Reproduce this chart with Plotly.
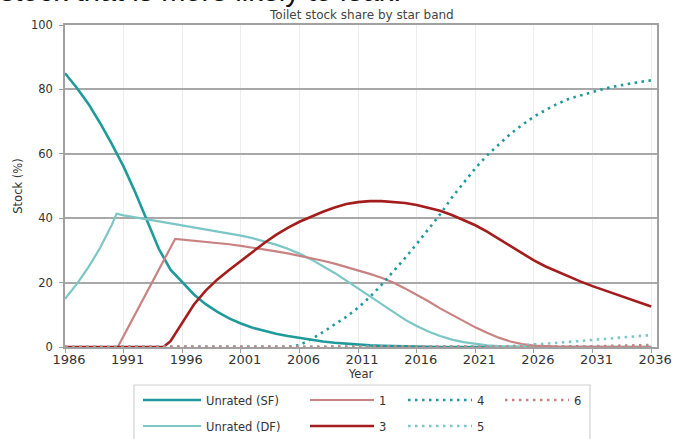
import plotly.graph_objects as go

# ---- data -------------------------------------------------------------
years = list(range(1986, 2037))

unrated_sf = [85.0, 80.5, 75.5, 69.5, 63.0, 56.0, 48.0, 39.5, 30.5, 24.0,
              20.0, 16.3, 13.3, 10.9, 8.9, 7.3, 6.0, 5.0, 4.1, 3.4,
              2.8, 2.2, 1.7, 1.3, 1.0, 0.7, 0.5, 0.35, 0.25, 0.15,
              0.1, 0.05, 0, 0, 0, 0, 0, 0, 0, 0,
              0, 0, 0, 0, 0, 0, 0, 0, 0, 0, 0]

df_years = [1986, 1987, 1988, 1989, 1990, 1990.4] + list(range(1991, 2037))
unrated_df = [15.0, 19.5, 24.8, 30.8, 38.0, 41.4,
              40.9, 40.2, 39.6, 39.0, 38.4, 37.8, 37.2, 36.6, 36.0, 35.3,
              34.6, 33.8, 32.9, 31.8, 30.5, 29.0, 27.2, 25.2, 23.0, 20.6,
              18.2, 15.7, 13.2, 10.8, 8.5, 6.5, 4.8, 3.4, 2.3, 1.5,
              0.9, 0.5, 0.3, 0.15, 0.07, 0, 0, 0, 0, 0,
              0, 0, 0, 0, 0, 0]

band1_years = [1986, 1990.5, 1995.4] + list(range(1996, 2037))
band1 = [0, 0, 33.6,
         33.4, 33.1, 32.7, 32.3, 31.9, 31.4, 30.9, 30.3, 29.7, 29.1,
         28.4, 27.6, 26.8, 25.9, 24.9, 23.8, 22.7, 21.5, 20.0, 18.2,
         16.3, 14.2, 12.0, 10.0, 8.0, 6.1, 4.4, 2.9, 1.7, 0.9,
         0.4, 0.2, 0.1, 0.05, 0, 0, 0, 0, 0, 0, 0, 0]

band3_years = [1986, 1994.4] + list(range(1995, 2037))
band3 = [0, 0,
         1.8, 7.5, 13.2, 17.5, 21.0, 23.9, 26.7, 29.5, 32.3, 34.8,
         37.0, 38.9, 40.5, 42.0, 43.3, 44.4, 45.0, 45.3, 45.3, 45.1,
         44.7, 44.1, 43.3, 42.3, 41.0, 39.5, 37.8, 35.8, 33.6, 31.4,
         29.1, 26.9, 25.0, 23.4, 21.8, 20.3, 18.9, 17.6, 16.4, 15.2,
         13.9, 12.6]

band4 = [0] * 19 + [0.1, 0.6, 2.4, 4.6, 6.9, 9.4, 12.2, 15.5, 19.3, 23.3,
                    27.6, 32.0, 36.5, 41.2, 46.4, 51.0, 55.5, 59.5, 63.0,
                    66.2, 69.0, 71.5, 73.6, 75.5, 77.1, 78.2, 79.3, 80.2,
                    81.0, 81.7, 82.3, 82.8]

band5 = [0] * 36 + [0.05, 0.15, 0.3, 0.5, 0.75, 1.0, 1.3, 1.6, 1.9, 2.2,
                    2.5, 2.8, 3.1, 3.4, 3.7]

band6 = [0] * 40 + [0.05, 0.08, 0.1, 0.15, 0.2, 0.25, 0.3, 0.38, 0.45,
                    0.52, 0.6]

# ---- styling ----------------------------------------------------------
TEAL = "#1f9a9a"
TEAL_LIGHT = "#7cc6c6"
ROSE = "#c98282"
CRIMSON = "#a41c1c"
DOTS = "2.5px,4.5px"
FONT = "DejaVu Sans"

series = [
    ("Unrated (SF)", years, unrated_sf, TEAL, 2.6, "solid", "legend"),
    ("Unrated (DF)", df_years, unrated_df, TEAL_LIGHT, 2.2, "solid", "legend2"),
    ("1", band1_years, band1, ROSE, 2.2, "solid", "legend3"),
    ("3", band3_years, band3, CRIMSON, 2.6, "solid", "legend4"),
    ("4", years, band4, TEAL, 2.6, DOTS, "legend5"),
    ("5", years, band5, TEAL_LIGHT, 2.6, DOTS, "legend6"),
    ("6", years, band6, ROSE, 2.6, DOTS, "legend7"),
]

fig = go.Figure()
for name, xs, ys, color, width, dash, leg in series:
    fig.add_trace(go.Scatter(
        x=xs, y=ys, name=name, mode="lines", legend=leg,
        line=dict(color=color, width=width, dash=dash),
    ))

# plot area geometry (px)
L, R, T, B = 65, 26, 25, 92
W, H = 683, 439
pw, ph = W - L - R, H - T - B


def px_x(px):
    return (px - L) / pw


def px_y(py):
    return (H - B - py) / ph


# one legend per entry, laid out in a 4-column box
legend_pos = {
    "legend": (138, 400, 58), "legend2": (138, 426, 58),
    "legend3": (305, 400, 64), "legend4": (305, 426, 64),
    "legend5": (403, 400, 64), "legend6": (403, 426, 64),
    "legend7": (500, 400, 64),
}
legend_layouts = {}
for key, (lx, ly, iw) in legend_pos.items():
    legend_layouts[key] = dict(
        x=px_x(lx), y=px_y(ly), xanchor="left", yanchor="middle",
        bgcolor="rgba(0,0,0,0)", borderwidth=0, itemwidth=iw,
        font=dict(family=FONT, size=11.5, color="#333"),
    )

fig.update_layout(
    width=W, height=H,
    margin=dict(l=L, r=R, t=T, b=B, autoexpand=False),
    paper_bgcolor="white", plot_bgcolor="white",
    font=dict(family=FONT, color="#333"),
    showlegend=True,
    **legend_layouts,
    xaxis=dict(
        range=[1986, 2036.5], tick0=1986, dtick=5,
        showgrid=True, gridcolor="#ececec", gridwidth=1,
        showline=True, mirror=True, linecolor="#a0a0a0", linewidth=1.5,
        ticks="outside", ticklen=4, tickcolor="#a0a0a0",
        tickfont=dict(family=FONT, size=13, color="#333"),
        ticklabelshift=4, ticklabelstandoff=-4,
        zeroline=False,
        title=dict(text="Year", font=dict(family=FONT, size=11.5, color="#333"),
                   standoff=2),
    ),
    yaxis=dict(
        range=[0, 100], tick0=0, dtick=20,
        showgrid=True, gridcolor="#a8a8a8", gridwidth=1.5,
        showline=True, mirror=True, linecolor="#a0a0a0", linewidth=1.5,
        ticks="outside", ticklen=4, tickcolor="#a0a0a0",
        tickfont=dict(family=FONT, size=11.5, color="#333"),
        ticklabelstandoff=4,
        zeroline=False,
        title=dict(text="Stock (%)", font=dict(family=FONT, size=11.5, color="#333"),
                   standoff=6),
    ),
)

# legend frame
fig.add_shape(type="rect", xref="paper", yref="paper",
              x0=px_x(134), x1=px_x(590), y0=px_y(445), y1=px_y(385),
              line=dict(color="#cfcfcf", width=1.2), fillcolor="rgba(0,0,0,0)",
              layer="below")

# chart title
fig.add_annotation(text="Toilet stock share by star band", xref="paper", yref="paper",
                   x=0.5, y=px_y(15), xanchor="center", yanchor="middle",
                   showarrow=False, font=dict(family=FONT, size=12, color="#444"))

# caption line from the surrounding text, running off the top edge
fig.add_annotation(text="stock that is more likely to leak.", xref="paper", yref="paper",
                   x=px_x(-2), y=px_y(9), xanchor="left", yanchor="bottom",
                   showarrow=False,
                   font=dict(family="Liberation Sans", size=29, color="#111"))

fig.write_html("out.html")
